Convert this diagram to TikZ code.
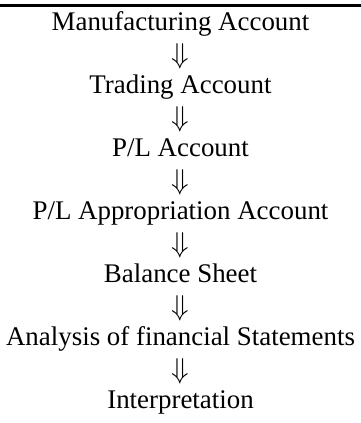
\documentclass[tikz,border=0pt]{standalone}
\usepackage{fontspec}
\setmainfont{Liberation Serif}
\usepackage{amsmath}
\usepackage{amssymb}
\usetikzlibrary{positioning, calc}
\tikzset{
  acct/.style={inner sep=0pt,font=\fontsize{13.5}{15}\selectfont,text height=1.5ex,text depth=.25ex},
  flow/.style={inner sep=0pt,font=\fontsize{15}{17}\selectfont},
  toprule/.style={line width=1.5bp,black},
}

\begin{document}
\begin{tikzpicture}[on grid,node distance=15.75bp]
	    \useasboundingbox (0,0) rectangle (180.5bp,-211.5bp);
	    \coordinate (RL) at (0,-2.6bp);
	    \coordinate (RR) at (180.5bp,-2.6bp);
	    \draw[toprule] (RL) -- (RR);
	    \node[acct] (MA) at (90.25bp,-12.2bp) {Manufacturing Account};
	    \node[flow,below=of MA] (A1) {$\Downarrow$};
	    \node[acct,below=of A1] (TA) {Trading Account};
	    \node[flow,below=of TA] (A2) {$\Downarrow$};
	    \node[acct,below=of A2] (PL) {P/L Account};
	    \node[flow,below=of PL] (A3) {$\Downarrow$};
	    \node[acct,below=of A3] (PLA) {P/L Appropriation Account};
	    \node[flow,below=of PLA] (A4) {$\Downarrow$};
	    \node[acct,below=of A4] (BS) {Balance Sheet};
	    \node[flow,below=of BS] (A5) {$\Downarrow$};
	    \node[acct,below=of A5] (AFS) {Analysis of financial Statements};
	    \node[flow,below=of AFS] (A6) {$\Downarrow$};
	    \node[acct,below=of A6] (IN) {Interpretation};
	\end{tikzpicture}
\end{document}
